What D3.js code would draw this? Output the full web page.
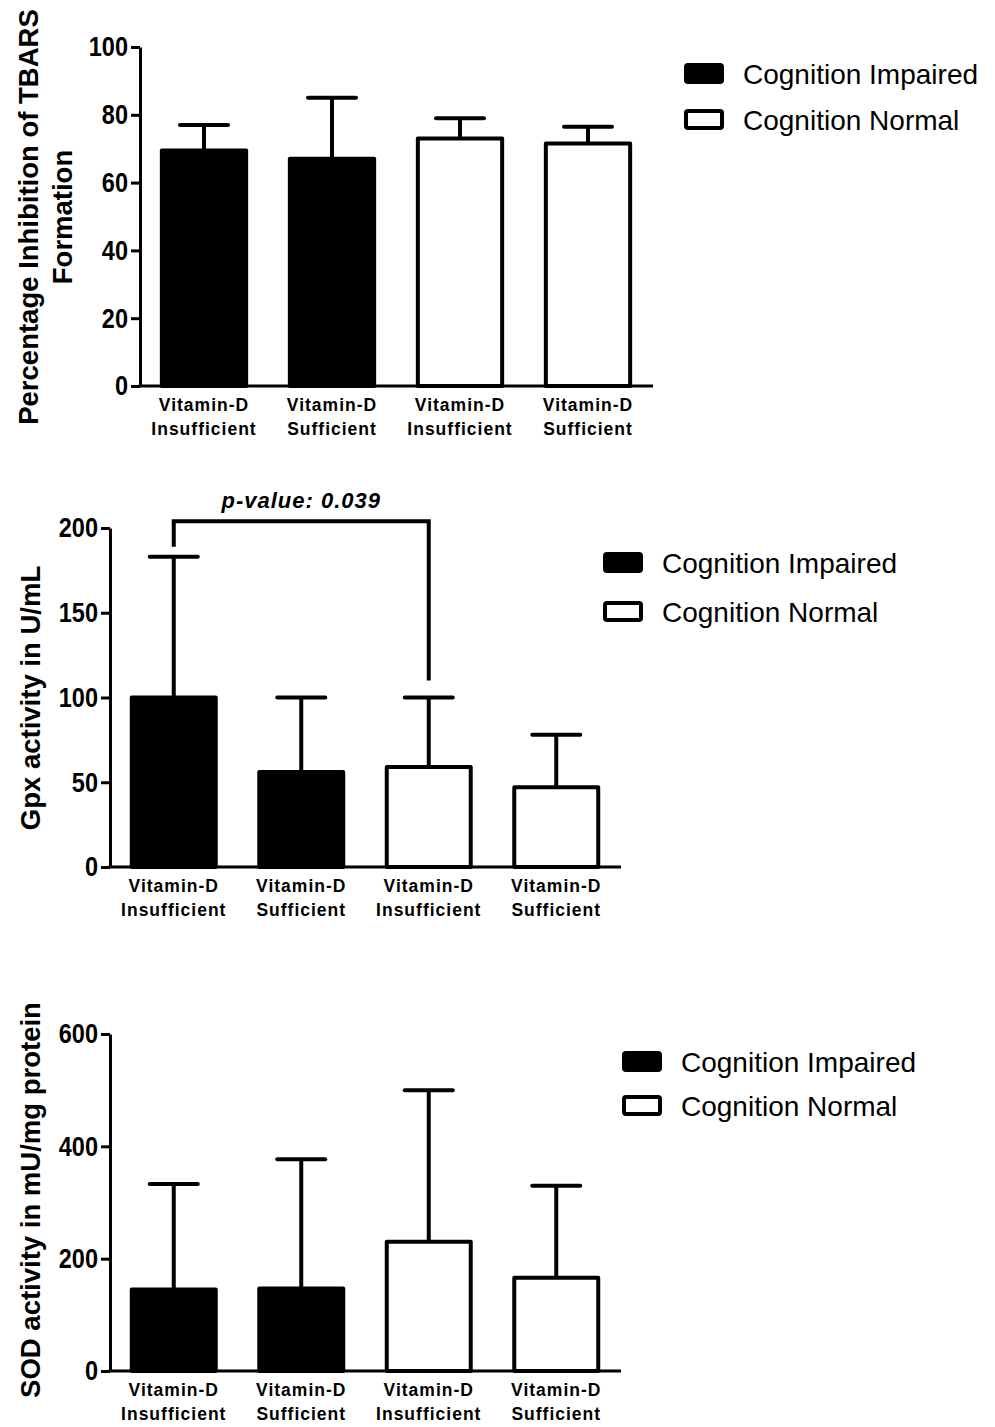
<!DOCTYPE html>
<html><head><meta charset="utf-8">
<script src="https://cdn.jsdelivr.net/npm/d3@7"></script>
<style>
html,body{margin:0;padding:0;background:#fff;}
svg{display:block;}
</style></head>
<body>
<svg id="c" width="995" height="1427"></svg>
<script>
const categories = ["Vitamin-D|Insufficient","Vitamin-D|Sufficient","Vitamin-D|Insufficient","Vitamin-D|Sufficient"];
const groups = ["Cognition Impaired","Cognition Normal"];
const groupOfBar = [0,0,1,1];

const tbarsMeans = [69.5, 67, 73, 71.5];
const tbarsErr   = [77, 85, 79, 76.5];
const tbarsTicks = [0,20,40,60,80,100];

const gpxMeans = [100, 56, 59, 47];
const gpxErr   = [183, 100, 100, 78];
const gpxTicks = [0,50,100,150,200];

const sodMeans = [145, 147, 230, 166];
const sodErr   = [333, 377, 500, 330];
const sodTicks = [0,200,400,600];

const pValueLabel = "p-value: 0.039";

const svg = d3.select("#c");
const mainFont = "'Liberation Sans',Arial,sans-serif";

function panel(o){
  const g = svg.append("g");
  const x = d3.scaleBand().domain(d3.range(categories.length)).range([o.x0,o.x1]).paddingInner(0.31).paddingOuter(0.155);
  const y = d3.scaleLinear().domain([0,o.max]).range([o.y0,o.yTop]);

  // bars
  g.selectAll("rect.bar").data(o.means).join("rect")
    .attr("x",(d,i)=>x(i)+2).attr("width",x.bandwidth()-4)
    .attr("y",d=>y(d)).attr("height",d=>o.y0-y(d))
    .attr("fill",(d,i)=>groupOfBar[i]===0?"#000":"#fff")
    .attr("stroke","#000").attr("stroke-width",4).attr("stroke-linejoin","round");
  // error bars
  const cap = 24;
  g.selectAll("line.err").data(o.err).join("line")
    .attr("x1",(d,i)=>x(i)+x.bandwidth()/2).attr("x2",(d,i)=>x(i)+x.bandwidth()/2)
    .attr("y1",(d,i)=>y(o.means[i])).attr("y2",d=>y(d))
    .attr("stroke","#000").attr("stroke-width",4);
  g.selectAll("line.cap").data(o.err).join("line")
    .attr("x1",(d,i)=>x(i)+x.bandwidth()/2-cap).attr("x2",(d,i)=>x(i)+x.bandwidth()/2+cap)
    .attr("y1",d=>y(d)).attr("y2",d=>y(d))
    .attr("stroke","#000").attr("stroke-width",4).attr("stroke-linecap","round");

  // y axis
  const sx = 0.84;
  const ya = g.append("g").attr("transform",`translate(${o.x0},0)`)
    .call(d3.axisLeft(y).tickValues(o.ticks).tickSize(9).tickSizeOuter(0).tickPadding(3));
  ya.select(".domain").attr("stroke","#000").attr("stroke-width",3);
  ya.selectAll(".tick line").attr("stroke","#000").attr("stroke-width",3);
  ya.selectAll(".tick text").attr("font-family",mainFont).attr("font-weight","bold")
    .attr("font-size",28).attr("fill","#000")
    .attr("x",-12/sx).attr("transform",`scale(${sx},1)`);
  // x axis line
  g.append("line").attr("x1",o.x0-1.5).attr("x2",o.x1+1).attr("y1",o.y0).attr("y2",o.y0)
    .attr("stroke","#000").attr("stroke-width",3);
  // category labels
  const xl = g.selectAll("text.cat").data(categories).join("text")
    .attr("x",(d,i)=>x(i)+x.bandwidth()/2).attr("y",o.y0+25)
    .attr("text-anchor","middle").attr("font-family",mainFont).attr("font-weight","bold")
    .attr("font-size",17.5).attr("letter-spacing","1").attr("fill","#000");
  xl.selectAll("tspan").data(d=>d.split("|")).join("tspan")
    .attr("x",function(){return this.parentNode.getAttribute("x");})
    .attr("dy",(d,i)=>i===0?0:23.5).text(d=>d);

  // y title
  const tt = g.append("text").attr("transform",`translate(${o.titleX},${o.titleY}) rotate(-90)`)
    .attr("text-anchor","middle").attr("font-family",mainFont).attr("font-weight","bold")
    .attr("font-size",27.5).attr("fill","#000");
  o.title.forEach((t,i)=>tt.append("tspan").attr("x",0).attr("dy",i===0?0:34).text(t));

  // legend
  const lg = g.append("g");
  groups.forEach((gn,i)=>{
    lg.append("rect").attr("x",o.lx+2).attr("y",o.ly+i*o.lgap+2).attr("width",36).attr("height",17)
      .attr("rx",2).attr("fill",i===0?"#000":"#fff").attr("stroke","#000").attr("stroke-width",4);
    lg.append("text").attr("x",o.lx+59).attr("y",o.ly+i*o.lgap+21)
      .attr("font-family",mainFont).attr("font-size",28).attr("fill","#000").text(gn);
  });
  return {x,y,g};
}

panel({x0:140,x1:652,y0:386,yTop:47,max:100,means:tbarsMeans,err:tbarsErr,ticks:tbarsTicks,
  title:["Percentage Inhibition of TBARS","Formation"],titleX:38,titleY:217,lx:684,ly:63,lgap:46});

const p2 = panel({x0:110,x1:620,y0:867,yTop:528,max:200,means:gpxMeans,err:gpxErr,ticks:gpxTicks,
  title:["Gpx activity in U/mL"],titleX:40,titleY:698,lx:603,ly:552,lgap:49});

// significance bracket
{
  const {x,y,g} = p2;
  const cx = i=>x(i)+x.bandwidth()/2;
  const top = y(204);
  g.append("path").attr("d",`M${cx(0)},${y(gpxErr[0])-10} V${top} H${cx(2)} V${y(gpxMeans[0])-17}`)
    .attr("fill","none").attr("stroke","#000").attr("stroke-width",4);
  g.append("text").attr("x",(cx(0)+cx(2))/2).attr("y",top-13).attr("text-anchor","middle")
    .attr("font-family",mainFont).attr("font-weight","bold").attr("font-style","italic")
    .attr("font-size",22).attr("letter-spacing","1").attr("fill","#000").text(pValueLabel);
}

panel({x0:110,x1:620,y0:1371,yTop:1034,max:600,means:sodMeans,err:sodErr,ticks:sodTicks,
  title:["SOD activity in mU/mg protein"],titleX:40,titleY:1200,lx:622,ly:1051,lgap:44});
</script>
</body></html>
